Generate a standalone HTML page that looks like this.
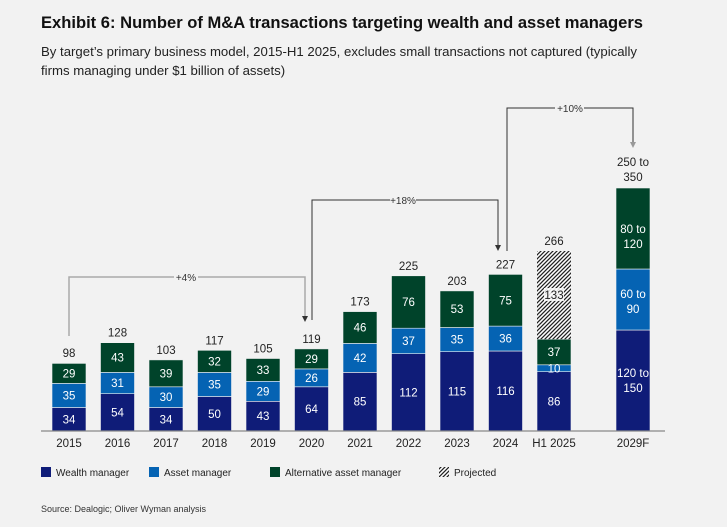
<!DOCTYPE html>
<html><head><meta charset="utf-8"><style>
body{margin:0;background:#f2f2f2;}
svg{display:block;font-family:"Liberation Sans",sans-serif;}
</style></head><body>
<svg width="727" height="527" viewBox="0 0 727 527" xmlns="http://www.w3.org/2000/svg">
<defs>
<pattern id="h" width="4" height="4" patternUnits="userSpaceOnUse">
<rect width="4" height="4" fill="#fff"/>
<path d="M0,4 L4,0 M-1,1 L1,-1 M3,5 L5,3" stroke="#222" stroke-width="1.3"/>
</pattern>
</defs>
<rect width="727" height="527" fill="#f2f2f2"/>
<text x="41" y="28" font-size="16.5" font-weight="bold" fill="#111" textLength="602" lengthAdjust="spacingAndGlyphs">Exhibit 6: Number of M&amp;A transactions targeting wealth and asset managers</text>
<text x="41" y="56" font-size="13.2" fill="#222" textLength="596" lengthAdjust="spacingAndGlyphs">By target’s primary business model, 2015-H1 2025, excludes small transactions not captured (typically</text>
<text x="41" y="75" font-size="13.2" fill="#222">firms managing under $1 billion of assets)</text>

<g stroke="#aaa" stroke-width="1.5" fill="none">
<path d="M69,336 V277 H174 M198,277 H305 V318"/>
</g>
<text x="186" y="281" font-size="10" fill="#333" text-anchor="middle">+4%</text>
<path d="M302,316 L305,322 L308,316 Z" fill="#333"/>
<g stroke="#333" stroke-width="1" fill="none">
<path d="M312,320 V200 H390 M416,200 H498 V247"/>
<path d="M507,251 V108 H555 M584,108 H633 V144"/>
</g>
<path d="M495,245 L498,251 L501,245 Z" fill="#333"/>
<path d="M630,142 L633,148 L636,142 Z" fill="#999"/>
<text x="403" y="204" font-size="10" fill="#333" text-anchor="middle">+18%</text>
<text x="570" y="112" font-size="10" fill="#333" text-anchor="middle">+10%</text>

<g font-size="11.5" text-anchor="middle" stroke="#f2f2f2" stroke-width="0.6">
<rect x="52" y="407.5" width="34" height="23.5" fill="#0f1c78"/>
<rect x="52" y="383.4" width="34" height="24.1" fill="#0563b3"/>
<rect x="52" y="363.4" width="34" height="20" fill="#00432a"/>
<rect x="100.5" y="393.7" width="34" height="37.3" fill="#0f1c78"/>
<rect x="100.5" y="372.4" width="34" height="21.3" fill="#0563b3"/>
<rect x="100.5" y="342.7" width="34" height="29.7" fill="#00432a"/>
<rect x="149" y="407.5" width="34" height="23.5" fill="#0f1c78"/>
<rect x="149" y="386.8" width="34" height="20.7" fill="#0563b3"/>
<rect x="149" y="359.9" width="34" height="26.9" fill="#00432a"/>
<rect x="197.5" y="396.5" width="34" height="34.5" fill="#0f1c78"/>
<rect x="197.5" y="372.4" width="34" height="24.1" fill="#0563b3"/>
<rect x="197.5" y="350.3" width="34" height="22.1" fill="#00432a"/>
<rect x="246" y="401.3" width="34" height="29.7" fill="#0f1c78"/>
<rect x="246" y="381.3" width="34" height="20" fill="#0563b3"/>
<rect x="246" y="358.5" width="34" height="22.8" fill="#00432a"/>
<rect x="294.5" y="386.8" width="34" height="44.2" fill="#0f1c78"/>
<rect x="294.5" y="368.9" width="34" height="17.9" fill="#0563b3"/>
<rect x="294.5" y="348.9" width="34" height="20" fill="#00432a"/>
<rect x="343" y="372.4" width="34" height="58.6" fill="#0f1c78"/>
<rect x="343" y="343.4" width="34" height="29" fill="#0563b3"/>
<rect x="343" y="311.6" width="34" height="31.8" fill="#00432a"/>
<rect x="391.5" y="353.7" width="34" height="77.3" fill="#0f1c78"/>
<rect x="391.5" y="328.2" width="34" height="25.5" fill="#0563b3"/>
<rect x="391.5" y="275.8" width="34" height="52.4" fill="#00432a"/>
<rect x="440" y="351.7" width="34" height="79.3" fill="#0f1c78"/>
<rect x="440" y="327.5" width="34" height="24.2" fill="#0563b3"/>
<rect x="440" y="290.9" width="34" height="36.6" fill="#00432a"/>
<rect x="488.5" y="351" width="34" height="80" fill="#0f1c78"/>
<rect x="488.5" y="326.1" width="34" height="24.9" fill="#0563b3"/>
<rect x="488.5" y="274.4" width="34" height="51.7" fill="#00432a"/>
<rect x="537" y="371.7" width="34" height="59.3" fill="#0f1c78"/>
<rect x="537" y="364.8" width="34" height="6.9" fill="#0563b3"/>
<rect x="537" y="339.2" width="34" height="25.6" fill="#00432a"/>
<rect x="537" y="251" width="34" height="88.2" fill="url(#h)" stroke="none"/>
<rect x="616" y="330" width="34" height="101" fill="#0f1c78"/>
<rect x="616" y="269" width="34" height="61" fill="#0563b3"/>
<rect x="616" y="188" width="34" height="81" fill="#00432a"/>
</g>

<g font-size="11.5" text-anchor="middle" fill="#fff">
<text x="69" y="423.3">34</text><text x="69" y="399.5">35</text><text x="69" y="377.4">29</text>
<text x="117.5" y="416.3">54</text><text x="117.5" y="387">31</text><text x="117.5" y="361.5">43</text>
<text x="166" y="423.3">34</text><text x="166" y="401.2">30</text><text x="166" y="377.4">39</text>
<text x="214.5" y="417.8">50</text><text x="214.5" y="388.5">35</text><text x="214.5" y="365.4">32</text>
<text x="263" y="420.2">43</text><text x="263" y="395.3">29</text><text x="263" y="373.9">33</text>
<text x="311.5" y="412.9">64</text><text x="311.5" y="381.9">26</text><text x="311.5" y="362.9">29</text>
<text x="360" y="405.7">85</text><text x="360" y="361.9">42</text><text x="360" y="331.5">46</text>
<text x="408.5" y="396.4">112</text><text x="408.5" y="345">37</text><text x="408.5" y="306">76</text>
<text x="457" y="395.4">115</text><text x="457" y="343.6">35</text><text x="457" y="313.2">53</text>
<text x="505.5" y="395">116</text><text x="505.5" y="342.5">36</text><text x="505.5" y="304.3">75</text>
<text x="554" y="405.4">86</text><text x="554" y="372.3">10</text><text x="554" y="356">37</text>
<text x="633" y="377">120 to</text><text x="633" y="392">150</text>
<text x="633" y="298">60 to</text><text x="633" y="313">90</text>
<text x="633" y="233">80 to</text><text x="633" y="248">120</text>
</g>
<rect x="544" y="288" width="20" height="13" fill="#fff" opacity="0.85"/>
<g font-size="11.5" text-anchor="middle" fill="#222">
<text x="554" y="299">133</text>
<text x="69" y="357">98</text><text x="117.5" y="336.7">128</text><text x="166" y="353.9">103</text>
<text x="214.5" y="344.3">117</text><text x="263" y="352.5">105</text><text x="311.5" y="342.9">119</text>
<text x="360" y="305.6">173</text><text x="408.5" y="269.8">225</text><text x="457" y="284.9">203</text>
<text x="505.5" y="268.4">227</text><text x="554" y="245">266</text>
<text x="633" y="166">250 to</text><text x="633" y="181">350</text>
<text x="69" y="447">2015</text><text x="117.5" y="447">2016</text><text x="166" y="447">2017</text>
<text x="214.5" y="447">2018</text><text x="263" y="447">2019</text><text x="311.5" y="447">2020</text>
<text x="360" y="447">2021</text><text x="408.5" y="447">2022</text><text x="457" y="447">2023</text>
<text x="505.5" y="447">2024</text><text x="554" y="447">H1 2025</text><text x="633" y="447">2029F</text>
</g>
<line x1="41" y1="431" x2="665" y2="431" stroke="#888" stroke-width="1.2"/>

<g font-size="10">
<rect x="41" y="467" width="10" height="10" fill="#0f1c78"/><text x="56" y="476" fill="#222">Wealth manager</text>
<rect x="149" y="467" width="10" height="10" fill="#0563b3"/><text x="164" y="476" fill="#222">Asset manager</text>
<rect x="270" y="467" width="10" height="10" fill="#00432a"/><text x="285" y="476" fill="#222">Alternative asset manager</text>
<rect x="439" y="467" width="10" height="10" fill="url(#h)"/><text x="454" y="476" fill="#222">Projected</text>
</g>
<text x="41" y="512" font-size="9" fill="#333">Source: Dealogic; Oliver Wyman analysis</text>
</svg>
</body></html>
